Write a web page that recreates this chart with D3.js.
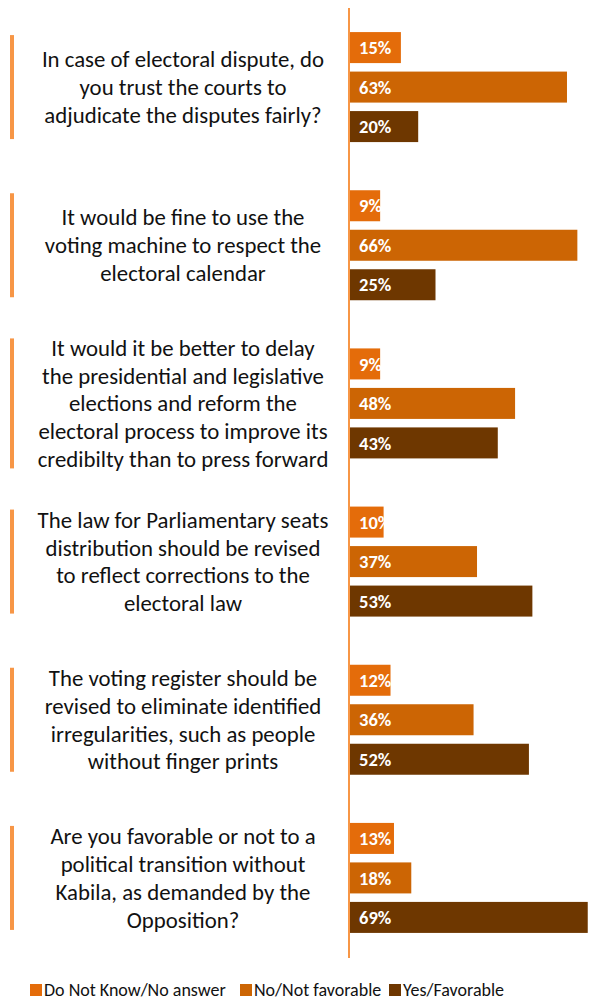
<!DOCTYPE html>
<html>
<head>
<meta charset="utf-8">
<script src="https://cdn.jsdelivr.net/npm/d3@7"></script>
<style>
  body { margin: 0; background: #fff; }
  svg { display: block; }
</style>
</head>
<body>
<div id="chart"></div>
<script>
// questions, each split into its lines as printed
const questions = [
  ["In case of electoral dispute, do", "you  trust the courts  to", "adjudicate the disputes fairly?"],
  ["It would be fine to use the", "voting machine to respect the", "electoral calendar"],
  ["It would it be better to delay", "the presidential and legislative", "elections and reform the", "electoral process to improve its", "credibilty than to press forward"],
  ["The law for Parliamentary seats", "distribution should be revised", "to reflect corrections to the", "electoral law"],
  ["The voting register should be", "revised to eliminate identified", "irregularities, such as people", "without finger prints"],
  ["Are you favorable or not to a", "political transition without", "Kabila, as demanded by the", "Opposition?"]
];

const seriesNames = ["Do Not Know/No answer", "No/Not favorable", "Yes/Favorable"];
const dontKnow = [15, 9, 9, 10, 12, 13];
const notFavorable = [63, 66, 48, 37, 36, 18];
const favorable = [20, 25, 43, 53, 52, 69];
const colors = ["#E46C0A", "#CC6504", "#6E3700"];

const width = 591, height = 1000;
const axisX = 349;

const svg = d3.select("#chart").append("svg")
  .attr("width", width)
  .attr("height", height);

const x = d3.scaleLinear()
  .domain([0, 100])
  .range([axisX, axisX + 346]);

const y = d3.scaleBand()
  .domain(d3.range(questions.length))
  .range([8, 957]);

const inner = d3.scaleBand()
  .domain(d3.range(3))
  .range([-55, 55])
  .paddingInner(0.215);

const rows = questions.map((q, i) => ({
  lines: q,
  values: [dontKnow[i], notFavorable[i], favorable[i]]
}));

const font = "Carlito, Lato, sans-serif";

const groups = svg.selectAll(".group")
  .data(rows)
  .enter().append("g")
  .attr("class", "group")
  .attr("transform", (d, i) => `translate(0,${y(i) + y.bandwidth() / 2})`);

// orange marker on the left of each question
groups.append("rect")
  .attr("x", 10)
  .attr("width", 4)
  .attr("y", d => -Math.max(104, d.lines.length * 26) / 2)
  .attr("height", d => Math.max(104, d.lines.length * 26))
  .attr("fill", "#F79646");

// question text
const lh = 27.8;
groups.append("text")
  .attr("text-anchor", "middle")
  .attr("font-family", font)
  .attr("font-size", "22.8px")
  .attr("fill", "#111")
  .selectAll("tspan")
  .data(d => d.lines.map((l, k) => ({ l, k, n: d.lines.length })))
  .enter().append("tspan")
  .attr("x", 183)
  .attr("y", d => (d.k - (d.n - 1) / 2) * lh)
  .attr("dy", "0.35em")
  .text(d => d.l);

// bars
groups.selectAll(".bar")
  .data(d => d.values)
  .enter().append("rect")
  .attr("class", "bar")
  .attr("x", x(0))
  .attr("y", (d, j) => inner(j))
  .attr("width", d => x(d) - x(0))
  .attr("height", inner.bandwidth())
  .attr("fill", (d, j) => colors[j]);

groups.selectAll(".val")
  .data(d => d.values)
  .enter().append("text")
  .attr("class", "val")
  .attr("x", x(0) + 10)
  .attr("y", (d, j) => inner(j) + inner.bandwidth() / 2)
  .attr("dy", "0.36em")
  .attr("font-family", font)
  .attr("font-size", "18.5px")
  .attr("font-weight", "bold")
  .attr("fill", "#fff")
  .text(d => d + "%");

// vertical axis line
svg.append("line")
  .attr("x1", axisX).attr("x2", axisX)
  .attr("y1", 8).attr("y2", 958)
  .attr("stroke", "#F79646")
  .attr("stroke-width", 2);

// legend
const legendX = [30, 240, 389];
const legend = svg.selectAll(".legend")
  .data(seriesNames)
  .enter().append("g")
  .attr("class", "legend")
  .attr("transform", (d, i) => `translate(${legendX[i]},984)`);

legend.append("rect")
  .attr("width", 12)
  .attr("height", 12)
  .attr("fill", (d, i) => colors[i]);

legend.append("text")
  .attr("x", 14)
  .attr("y", 6)
  .attr("dy", "0.36em")
  .attr("font-family", font)
  .attr("font-size", "18px")
  .attr("fill", "#111")
  .text(d => d);
</script>
</body>
</html>
